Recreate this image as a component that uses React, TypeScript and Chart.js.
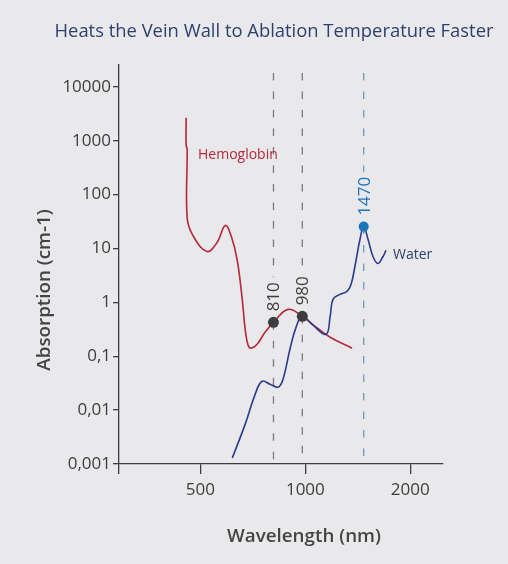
import React, { useEffect, useRef } from 'react';
import { Chart, registerables } from 'chart.js';

Chart.register(...registerables);

const chartTitle = 'Heats the Vein Wall to Ablation Temperature Faster';
const xAxisTitle = 'Wavelength (nm)';
const yAxisTitle = 'Absorption (cm-1)';
const seriesNames = ['Hemoglobin', 'Water'];

const xMin = 292;
const xMax = 2482;
const yMin = 0.001;
const yMax = 25500;

const xTickValues = [500, 1000, 2000];
const xTickLabels = ['500', '1000', '2000'];
const yTickValues = [0.001, 0.01, 0.1, 1, 10, 100, 1000, 10000];
const yTickLabels = ['0,001', '0,01', '0,1', '1', '10', '100', '1000', '10000'];

const hemoglobinWavelength = [455, 455, 458, 458, 476, 522, 558, 589, 612, 637, 659, 672, 685, 699, 727, 766, 810, 892, 980, 1066, 1178, 1361];
const hemoglobinAbsorption = [2667, 808, 711, 37.5, 17.4, 8.8, 12.9, 26.7, 17.4, 6.25, 1.14, 0.316, 0.16, 0.141, 0.167, 0.278, 0.426, 0.742, 0.55, 0.36, 0.225, 0.141];

const waterWavelength = [617, 672, 718, 751, 792, 835, 863, 903, 940, 980, 1045, 1146, 1178, 1200, 1257, 1316, 1352, 1387, 1434, 1470, 1513, 1563, 1614, 1670, 1703];
const waterAbsorption = [0.00129, 0.0055, 0.0198, 0.0344, 0.0303, 0.0267, 0.0376, 0.135, 0.344, 0.55, 0.392, 0.255, 0.55, 1.14, 1.41, 1.6, 2.15, 4.64, 14.7, 25.5, 14.7, 7.1, 5.28, 7.1, 9.2];

const markerWavelength = [810, 980, 1470];
const markerAbsorption = [0.426, 0.55, 25.5];
const markerLabels = ['810', '980', '1470'];

const RED = '#b5283a';
const NAVY = '#2b3a8c';
const BLUE = '#1b75bb';
const DARK = '#3d3d3d';
const TITLE_NAVY = '#2e3f6e';
const FONT = '"Open Sans", "Noto Sans", sans-serif';

const annotate = {
  id: 'annotate',
  beforeDatasetsDraw(chart: any) {
    const { ctx, chartArea, scales } = chart;
    const x = scales.x;
    const y = scales.y;
    ctx.save();
    markerWavelength.forEach((w, i) => {
      const px = x.getPixelForValue(w);
      const py = y.getPixelForValue(markerAbsorption[i]);
      ctx.font = `17px ${FONT}`;
      const tw = ctx.measureText(markerLabels[i]).width;
      const labelTop = py - 11 - tw;
      ctx.strokeStyle = i === 2 ? '#6f98b8' : '#7b7b7b';
      ctx.lineWidth = 1.3;
      ctx.setLineDash([7.5, 11]);
      ctx.beginPath();
      ctx.moveTo(px, 73);
      ctx.lineTo(px, labelTop - 5);
      ctx.stroke();
      ctx.beginPath();
      ctx.moveTo(px, py);
      ctx.lineTo(px, chartArea.bottom);
      ctx.stroke();
    });
    ctx.restore();
  },
  afterDatasetsDraw(chart: any) {
    const { ctx, scales } = chart;
    const x = scales.x;
    const y = scales.y;
    ctx.save();
    markerWavelength.forEach((w, i) => {
      const px = x.getPixelForValue(w);
      const py = y.getPixelForValue(markerAbsorption[i]);
      ctx.save();
      ctx.translate(px + 1, py - 11);
      ctx.rotate(-Math.PI / 2);
      ctx.font = `17px ${FONT}`;
      ctx.fillStyle = i === 2 ? BLUE : DARK;
      ctx.textAlign = 'left';
      ctx.textBaseline = 'middle';
      ctx.fillText(markerLabels[i], 0, 0);
      ctx.restore();
    });
    ctx.font = `14px ${FONT}`;
    ctx.textAlign = 'left';
    ctx.textBaseline = 'middle';
    ctx.fillStyle = RED;
    ctx.fillText(seriesNames[0], 198, 155);
    ctx.fillStyle = TITLE_NAVY;
    ctx.fillText(seriesNames[1], 393, 255);
    ctx.restore();
  },
  afterDraw(chart: any) {
    const { ctx } = chart;
    ctx.save();
    ctx.fillStyle = TITLE_NAVY;
    ctx.font = `18.4px ${FONT}`;
    ctx.textAlign = 'center';
    ctx.textBaseline = 'middle';
    ctx.fillText(chartTitle, 274, 32);
    ctx.fillStyle = '#444444';
    ctx.font = `600 18.8px ${FONT}`;
    ctx.fillText(xAxisTitle, 304, 537);
    ctx.translate(45, 290);
    ctx.rotate(-Math.PI / 2);
    ctx.fillText(yAxisTitle, 0, 0);
    ctx.restore();
  },
};

function App() {
  const canvasRef = useRef<HTMLCanvasElement | null>(null);

  useEffect(() => {
    document.body.style.margin = '0';
    document.body.style.background = '#e9e9ec';
    let chart: Chart | null = null;
    let cancelled = false;
    const build = () => {
      if (cancelled || !canvasRef.current) return;
      const toPoints = (xs: number[], ys: number[]) => xs.map((v, i) => ({ x: v, y: ys[i] }));
      chart = new Chart(canvasRef.current, {
        type: 'scatter',
        data: {
          datasets: [
            {
              label: 'markers',
              data: toPoints(markerWavelength, markerAbsorption),
              showLine: false,
              pointRadius: [5.5, 5.5, 5],
              pointBackgroundColor: [DARK, DARK, BLUE],
              pointBorderColor: [DARK, DARK, BLUE],
              pointBorderWidth: 0,
            },
            {
              label: seriesNames[1],
              data: toPoints(waterWavelength, waterAbsorption),
              showLine: true,
              borderColor: NAVY,
              borderWidth: 1.6,
              pointRadius: 0,
              tension: 0.4,
              fill: false,
            },
            {
              label: seriesNames[0],
              data: toPoints(hemoglobinWavelength, hemoglobinAbsorption),
              showLine: true,
              borderColor: RED,
              borderWidth: 1.6,
              pointRadius: 0,
              tension: 0.4,
              fill: false,
            },
          ],
        },
        options: {
          responsive: false,
          animation: false,
          devicePixelRatio: 1,
          layout: { padding: { top: 65, right: 65, left: 0, bottom: 0 } },
          plugins: {
            legend: { display: false },
            tooltip: { enabled: false },
            title: { display: false },
          },
          scales: {
            x: {
              type: 'logarithmic',
              min: xMin,
              max: xMax,
              afterBuildTicks: (scale: any) => {
                scale.ticks = [xMin, ...xTickValues].map((v) => ({ value: v }));
              },
              afterFit: (scale: any) => {
                scale.height = 100;
              },
              ticks: {
                autoSkip: false,
                maxRotation: 0,
                padding: 6,
                color: DARK,
                font: { family: FONT, size: 17 },
                callback: (value: any) => {
                  const idx = xTickValues.indexOf(Number(value));
                  return idx >= 0 ? xTickLabels[idx] : '';
                },
              },
              grid: {
                drawOnChartArea: false,
                drawTicks: true,
                tickLength: 10,
                color: DARK,
                lineWidth: 1.3,
              },
              border: { display: true, color: DARK, width: 1.3 },
            },
            y: {
              type: 'logarithmic',
              min: yMin,
              max: yMax,
              afterBuildTicks: (scale: any) => {
                scale.ticks = yTickValues.map((v) => ({ value: v }));
              },
              afterFit: (scale: any) => {
                scale.width = 119;
              },
              ticks: {
                autoSkip: false,
                padding: 2,
                color: DARK,
                font: { family: FONT, size: 17 },
                callback: (value: any) => {
                  const idx = yTickValues.findIndex((v) => Math.abs(v - Number(value)) / v < 1e-6);
                  return idx >= 0 ? yTickLabels[idx] : '';
                },
              },
              grid: {
                drawOnChartArea: false,
                drawTicks: true,
                tickLength: 6,
                color: DARK,
                lineWidth: 1.3,
              },
              border: { display: true, color: DARK, width: 1.3 },
            },
          },
        },
        plugins: [annotate],
      } as any);
    };
    const fontsApi = (document as any).fonts;
    if (fontsApi && fontsApi.load) {
      Promise.all([
        fontsApi.load(`17px "Open Sans"`),
        fontsApi.load(`600 18px "Open Sans"`),
      ]).then(build, build);
    } else {
      build();
    }
    return () => {
      cancelled = true;
      if (chart) chart.destroy();
    };
  }, []);

  return (
    <div style={{ width: 508, height: 564, background: '#e9e9ec', position: 'relative' }}>
      <canvas ref={canvasRef} width={508} height={564} style={{ display: 'block', width: 508, height: 564 }} />
    </div>
  );
}

export default App;
